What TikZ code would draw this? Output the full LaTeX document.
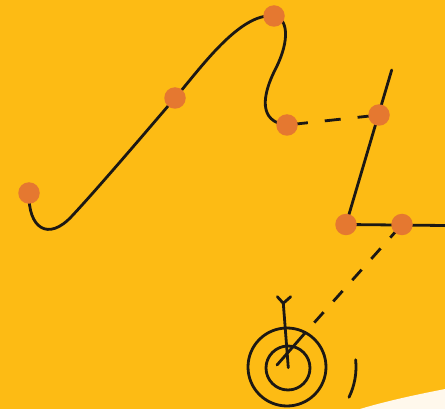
\documentclass[tikz,border=0pt]{standalone}
\definecolor{bgyellow}{RGB}{253,187,20}
\definecolor{dotorange}{RGB}{229,120,48}
\definecolor{inkblack}{RGB}{28,24,20}
\definecolor{paperwhite}{RGB}{255,248,236}
\tikzset{
  ink/.style={draw=inkblack, line width=2.8pt, line cap=round, line join=round},
  dashink/.style={draw=inkblack, line width=2.8pt, line cap=butt},
  dotnode/.style={circle, fill=dotorange, draw=none, inner sep=0pt, minimum size=21.5pt},
}
\begin{document}
\begin{tikzpicture}[x=1pt,y=-1pt]
\useasboundingbox (0,0) rectangle (445,409);
\fill[bgyellow] (0,0) rectangle (445,409);
\fill[paperwhite] (360,409) .. controls (390,400) and (420,394) .. (445,389) -- (445,409) -- cycle;

% positions
\coordinate (p1) at (29,193);
\coordinate (p2) at (175,98);
\coordinate (p3) at (274,16);
\coordinate (p4) at (287,125);
\coordinate (p5) at (379,115);
\coordinate (p6) at (346,224.5);
\coordinate (p7) at (402,224.5);
\coordinate (ltop) at (391.7,70);
\coordinate (redge) at (445,225.5);
\coordinate (tc) at (287,367);
\coordinate (ic) at (288,368);
\coordinate (entry) at (305,333);
\coordinate (tip) at (277,365);
\coordinate (shafttop) at (283.3,303.3);
\coordinate (shaftend) at (288.3,367.7);
\coordinate (fl) at (277.3,296.7);
\coordinate (fr) at (290.7,296.7);

% winding path
\draw[ink] (p1) .. controls (28,228) and (48,242) .. (72,216)
  .. controls (100,186) and (150,127) .. (p2)
  .. controls (200,69) and (240,12) .. (p3)
  .. controls (288,18) and (290,40) .. (276,68)
  .. controls (262,95) and (258,122) .. (p4);

% dashed link to the upright line
\draw[dashink, dash pattern=on 16pt off 17pt, dash phase=28pt] (p4) -- (p5);

% upright line and horizontal
\draw[ink] (ltop) -- (p6) -- (redge);

% dashed trajectory to target
\draw[dashink, dash pattern=on 14pt off 14.5pt, dash phase=24.9pt] (p7) -- (entry);
\draw[ink] (entry) -- (tip);

% target
\draw[ink] (tc) circle[radius=39];
\draw[ink] (ic) circle[radius=22];
\draw[ink] ([shift={(-6:69)}]tc) arc[start angle=-6, end angle=26, radius=69];

% dart
\draw[ink] (shafttop) -- (shaftend);
\draw[ink] (fl) -- (shafttop) -- (fr);

% dots
\node[dotnode] (d1) at (p1) {};
\node[dotnode] (d2) at (p2) {};
\node[dotnode] (d3) at (p3) {};
\node[dotnode] (d4) at (p4) {};
\node[dotnode] (d5) at (p5) {};
\node[dotnode] (d6) at (p6) {};
\node[dotnode] (d7) at (p7) {};
\end{tikzpicture}
\end{document}
